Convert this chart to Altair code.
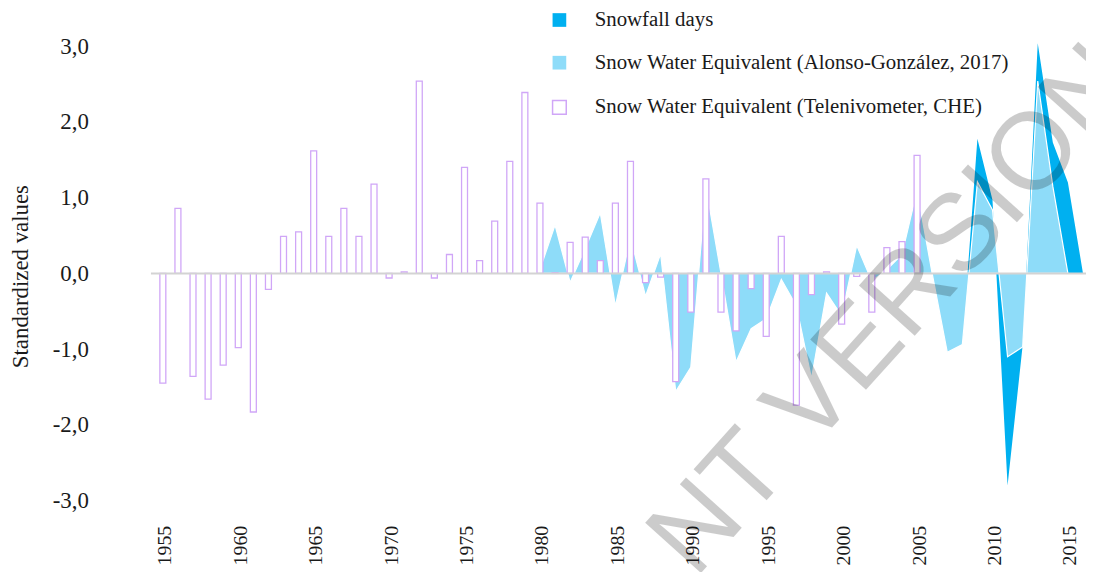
import altair as alt
import pandas as pd

# ---- data ----
tele_years = list(range(1955, 2006))
tele_values = [-1.45, 0.86, -1.36, -1.66, -1.21, -0.98, -1.83, -0.21, 0.49, 0.55,
               1.62, 0.49, 0.86, 0.49, 1.18, -0.06, 0.02, 2.54, -0.06, 0.25,
               1.40, 0.17, 0.69, 1.48, 2.39, 0.93, 0.01, 0.41, 0.48, 0.17,
               0.93, 1.48, -0.12, -0.05, -1.43, -0.51, 1.25, -0.51, -0.76, -0.20,
               -0.83, 0.49, -1.74, -0.28, 0.02, -0.67, -0.04, -0.51, 0.34, 0.42,
               1.56]

swe_years = list(range(1980, 2016))
swe_values = [0.05, 0.64, -0.12, 0.33, 0.80, -0.43, 0.47, -0.30, 0.26, -1.56,
              -1.24, 1.15, 0.00, -1.17, -0.73, -0.60, -0.08, -0.43, -1.39, -0.26,
              -0.56, 0.37, -0.10, 0.05, 0.25, 1.10, 0.00, -1.04, -0.94, 1.21,
              0.84, -1.10, -0.97, 2.54, 1.15, 0.00]

snow_years = list(range(2008, 2017))
snow_values = [-0.95, 1.78, 0.97, -2.80, -0.95, 3.04, 1.73, 1.20, 0.00]

x_ticks = list(range(1955, 2016, 5))
y_ticks = [-3, -2, -1, 0, 1, 2, 3]

SNOW = "Snowfall days"
SWE = "Snow Water Equivalent (Alonso-González, 2017)"
TELE = "Snow Water Equivalent (Telenivometer, CHE)"
WATERMARK = "NT VERSION"

area_df = pd.DataFrame({
    "year": snow_years + swe_years,
    "value": snow_values + swe_values,
    "series": [SNOW] * len(snow_years) + [SWE] * len(swe_years),
})
bar_df = pd.DataFrame({"year": tele_years, "value": tele_values, "series": TELE})

SERIF = "Liberation Serif"

x_enc = alt.X(
    "year:Q",
    scale=alt.Scale(domain=[1954.54, 2015.87], nice=False, zero=False),
    axis=alt.Axis(values=x_ticks, format="d", labelAngle=270, labelFont=SERIF,
                  labelFontSize=20, labelColor="#1a1a1a", domain=False, ticks=False,
                  grid=False, labelPadding=2, labelOffset=2, title=None),
)
y_enc = alt.Y(
    "value:Q",
    stack=None,
    scale=alt.Scale(domain=[-3.3, 3.4], nice=False),
    axis=alt.Axis(values=y_ticks,
                  labelExpr="replace(replace(format(datum.value, '.1f'), '.', ','), '\u2212', '-')",
                  labelFont=SERIF, labelFontSize=23, labelColor="#1a1a1a",
                  domain=False, ticks=False, grid=False, labelPadding=63,
                  title="Standardized values", titleFont=SERIF, titleFontSize=23,
                  titleFontWeight="normal", titleColor="#1a1a1a", titlePadding=20,
                  titleY=262),
)

legend_common = dict(orient="none", title=None, symbolType="square", symbolSize=190,
                     labelFont=SERIF, labelFontSize=21, labelColor="#1a1a1a",
                     labelOffset=25, rowPadding=21, padding=0, labelLimit=0)

fill_enc = alt.Fill(
    "series:N",
    scale=alt.Scale(domain=[SNOW, SWE], range=["#00B0F0", "#8EDCF9"]),
    legend=alt.Legend(legendX=401, legendY=-6.5, symbolStrokeWidth=0, **legend_common),
)
stroke_enc = alt.Stroke(
    "series:N",
    scale=alt.Scale(domain=[TELE], range=["#D0A6F7"]),
    legend=alt.Legend(legendX=401, legendY=81.5, symbolFillColor="white",
                      symbolStrokeWidth=1.5, **legend_common),
)

dark = (alt.Chart(area_df).transform_filter(alt.datum.series == SNOW)
        .mark_area(clip=True)
        .encode(x=x_enc, y=y_enc, fill=fill_enc))
light = (alt.Chart(area_df).transform_filter(alt.datum.series == SWE)
         .mark_area(clip=True, stroke="white", strokeWidth=1.2)
         .encode(x=x_enc, y=y_enc, fill=fill_enc))
bars = (alt.Chart(bar_df)
        .mark_bar(size=6, fill="white", strokeWidth=1.3, clip=True)
        .encode(x=x_enc, y=y_enc, stroke=stroke_enc))
rule = (alt.Chart(pd.DataFrame({"v": [0]}))
        .mark_rule(color="#D3D3D3", strokeWidth=2)
        .encode(y="v:Q"))
watermark = (alt.Chart(pd.DataFrame({"t": [WATERMARK]}))
             .mark_text(angle=312, align="left", baseline="alphabetic",
                        font="Liberation Sans", fontSize=110, fill="black", opacity=0.2)
             .encode(x=alt.value(548), y=alt.value(568), text="t:N"))

chart = (alt.layer(dark, light, bars, rule, watermark)
         .properties(width=942, height=511,
                     padding={"left": 144, "top": 6, "right": 0, "bottom": 48},
                     autosize=alt.AutoSizeParams(type="none"))
         .configure_view(stroke=None))

chart.save("out.html", embed_options={"renderer": "svg", "actions": False})
